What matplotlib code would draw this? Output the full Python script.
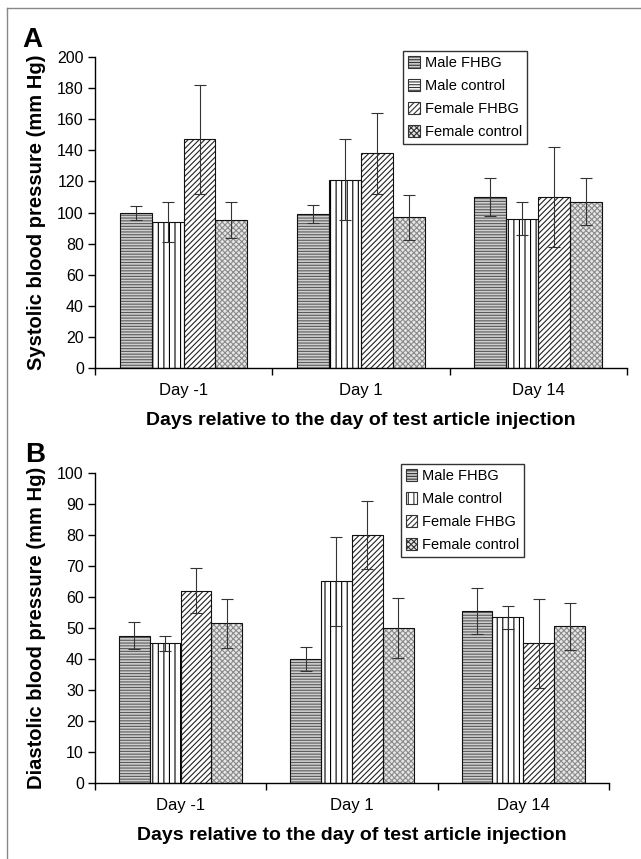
import numpy as np
import matplotlib
matplotlib.use("Agg")
import matplotlib.pyplot as plt
from matplotlib.patches import Patch
from matplotlib.lines import Line2D

plt.rcParams["font.family"] = ["Liberation Sans", "DejaVu Sans"]
plt.rcParams["hatch.linewidth"] = 0.8

days = ["Day -1", "Day 1", "Day 14"]
groups = ["Male FHBG", "Male control", "Female FHBG", "Female control"]

# systolic (panel A), one list per group across days
sys_mean = {
    "Male FHBG": [100, 99, 110],
    "Male control": [94, 121, 96],
    "Female FHBG": [147, 138, 110],
    "Female control": [95, 97, 107],
}
sys_err = {
    "Male FHBG": [4.5, 6, 12],
    "Male control": [13, 26, 10.5],
    "Female FHBG": [35, 26, 32],
    "Female control": [11.5, 14.5, 15],
}

# diastolic (panel B)
dia_mean = {
    "Male FHBG": [47.5, 40, 55.5],
    "Male control": [45, 65, 53.5],
    "Female FHBG": [62, 80, 45],
    "Female control": [51.5, 50, 50.5],
}
dia_err = {
    "Male FHBG": [4.3, 4, 7.5],
    "Male control": [2.3, 14.5, 3.7],
    "Female FHBG": [7.3, 11, 14.5],
    "Female control": [8, 9.8, 7.5],
}

# face colour, hatch, hatch colour
styles = {
    "Male FHBG": ("#cfcfcf", "------", "#5a5a5a"),
    "Male control": ("white", "|||", "black"),
    "Female FHBG": ("white", "//////", "#222222"),
    "Female control": ("#e6e6e6", "xxxxxx", "#8a8a8a"),
}

fig = plt.figure(figsize=(6.41, 8.59), dpi=100)


def draw_panel(ax, means, errs, ymax, ystep, ylabel, letter, letter_y,
               legend_hatch, leg_anchor):
    x = np.arange(len(days))
    w = 0.18
    for i, g in enumerate(groups):
        fc, h, hc = styles[g]
        pos = x + (i - 1.5) * w
        ax.bar(pos, means[g], w, color=fc, hatch=h, edgecolor=hc, linewidth=0, zorder=2)
        ax.bar(pos, means[g], w, fill=False, edgecolor="#111111", linewidth=0.8, zorder=3)
        ax.errorbar(pos, means[g], yerr=errs[g], fmt="none", ecolor="#333333",
                    elinewidth=0.8, capsize=4, capthick=0.8, zorder=4)
    ax.set_xlim(-0.5, 2.5)
    ax.set_ylim(0, ymax)
    ax.set_yticks(np.arange(0, ymax + 1, ystep))
    ax.set_xticks(x)
    ax.set_xticklabels(days, fontsize=12)
    ax.set_xticks([-0.5, 0.5, 1.5, 2.5], minor=True)
    ax.tick_params(axis="x", which="major", length=0, pad=11)
    ax.tick_params(axis="x", which="minor", length=5, width=1)
    ax.tick_params(axis="y", labelsize=11.5, length=5, width=1, pad=3)
    for s in ["top", "right"]:
        ax.spines[s].set_visible(False)
    ax.spines["left"].set_linewidth(1)
    ax.spines["bottom"].set_linewidth(1)
    ax.set_ylabel(ylabel, fontsize=14.5, fontweight="bold", labelpad=8)
    ax.set_xlabel("Days relative to the day of test article injection",
                  fontsize=14, fontweight="bold", labelpad=10)
    ax.text(-0.136, letter_y, letter, transform=ax.transAxes, fontsize=20,
            fontweight="bold", ha="left", va="baseline")
    handles = []
    for g in groups:
        fc, h, hc = styles[g]
        h = legend_hatch.get(g, h)
        handles.append(Patch(facecolor=fc, hatch=h, edgecolor="#333333", linewidth=0.8))
    leg = ax.legend(handles, groups, loc="upper right", bbox_to_anchor=leg_anchor,
                    fontsize=10.5, frameon=True, fancybox=False, handlelength=0.8,
                    handleheight=0.9, handletextpad=0.3, labelspacing=0.6,
                    borderpad=0.35, borderaxespad=0)
    leg.get_frame().set_edgecolor("black")
    leg.get_frame().set_linewidth(1)


axA = fig.add_axes([0.148, 0.5716, 0.830, 0.362])
draw_panel(axA, sys_mean, sys_err, 200, 20,
           "Systolic blood pressure (mm Hg)", "A", 1.032,
           {"Male control": "------"}, (0.812, 1.019))

axB = fig.add_axes([0.148, 0.0885, 0.802, 0.3609])
draw_panel(axB, dia_mean, dia_err, 100, 10,
           "Diastolic blood pressure (mm Hg)", "B", 1.035,
           {}, (0.835, 1.029))

# thin frame at the left and top edge
fig.add_artist(Line2D([0.011, 0.011], [0, 0.9907], color="#888888", lw=1,
                      transform=fig.transFigure))
fig.add_artist(Line2D([0.011, 1.0], [0.9907, 0.9907], color="#888888", lw=1,
                      transform=fig.transFigure))

fig.savefig("out.png", dpi=100)
